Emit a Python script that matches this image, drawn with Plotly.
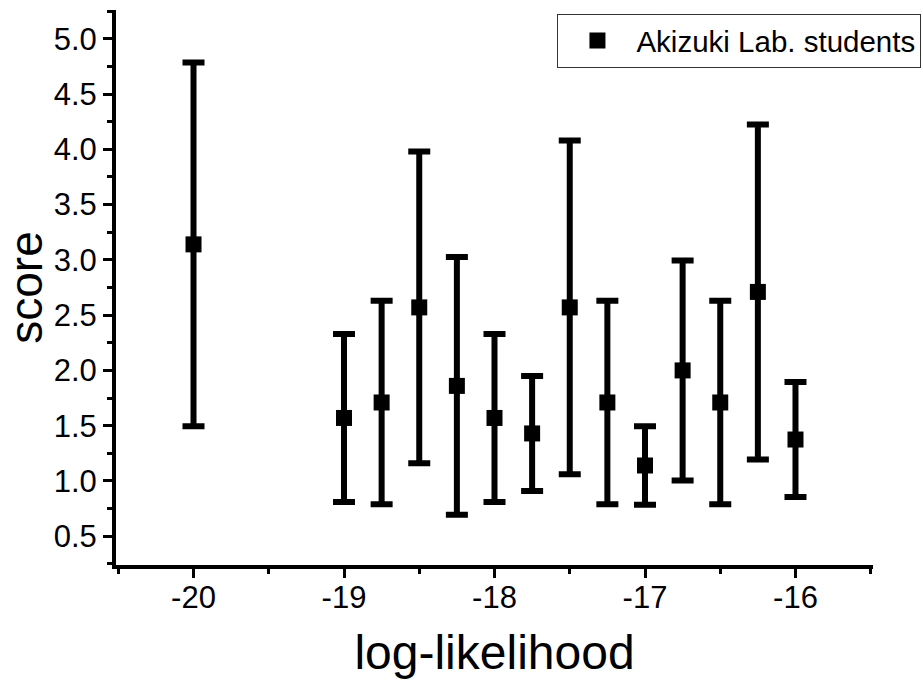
import plotly.graph_objects as go

# Data
log_likelihood = [-20, -19, -18.75, -18.5, -18.25, -18, -17.75, -17.5, -17.25, -17, -16.75, -16.5, -16.25, -16]
score_mean = [3.14, 1.57, 1.71, 2.57, 1.86, 1.57, 1.43, 2.57, 1.71, 1.14, 2.00, 1.71, 2.71, 1.375]
score_err = [1.645, 0.76, 0.92, 1.41, 1.165, 0.76, 0.52, 1.51, 0.92, 0.355, 0.995, 0.92, 1.515, 0.52]
series_name = "Akizuki Lab. students"

x_tick_vals = [-20, -19, -18, -17, -16]
x_tick_text = ["-20", "-19", "-18", "-17", "-16"]
y_tick_vals = [0.5, 1.0, 1.5, 2.0, 2.5, 3.0, 3.5, 4.0, 4.5, 5.0]
y_tick_text = ["0.5", "1.0", "1.5", "2.0", "2.5", "3.0", "3.5", "4.0", "4.5", "5.0"]

FONT = "Liberation Sans, Arial, sans-serif"

fig = go.Figure()
fig.add_trace(go.Scatter(
    x=log_likelihood, y=score_mean, mode="markers", name=series_name,
    marker=dict(symbol="square", size=16, color="black"),
    error_y=dict(type="data", array=score_err, symmetric=True,
                 color="black", thickness=6, width=11),
    showlegend=True,
))

fig.update_layout(
    width=923, height=690,
    margin=dict(l=116, r=50, t=10, b=125, autoexpand=False),
    paper_bgcolor="white", plot_bgcolor="white",
    font=dict(family=FONT, color="black"),
    showlegend=True,
    legend=dict(
        x=1.064, xanchor="right", y=0.993, yanchor="top",
        bordercolor="#333333", borderwidth=1, bgcolor="white",
        font=dict(size=29.5, family=FONT, color="black"),
        itemwidth=68,
    ),
    xaxis=dict(
        range=[-20.515, -15.485],
        showgrid=False, zeroline=False,
        showline=True, linecolor="black", linewidth=4,
        ticks="outside", ticklen=9, tickwidth=3, tickcolor="black",
        tickvals=x_tick_vals, ticktext=x_tick_text,
        tickfont=dict(size=31, family=FONT, color="black"),
        ticklabelstandoff=-7,
        minor=dict(dtick=0.5, tick0=-20.5, ticks="outside", ticklen=5, tickwidth=3, tickcolor="black", showgrid=False),
        title=dict(text="log-likelihood", font=dict(size=48, family=FONT, color="black"), standoff=22),
    ),
    yaxis=dict(
        range=[0.24, 5.26],
        showgrid=False, zeroline=False,
        showline=True, linecolor="black", linewidth=4,
        ticks="outside", ticklen=9, tickwidth=3, tickcolor="black",
        tickvals=y_tick_vals, ticktext=y_tick_text,
        tickfont=dict(size=31, family=FONT, color="black"),
        ticklabelstandoff=0,
        minor=dict(dtick=0.25, tick0=0.25, ticks="outside", ticklen=5, tickwidth=3, tickcolor="black", showgrid=False),
        title=dict(text="score", font=dict(size=46, family=FONT, color="black"), standoff=29),
    ),
)

fig.write_html("out.html")
